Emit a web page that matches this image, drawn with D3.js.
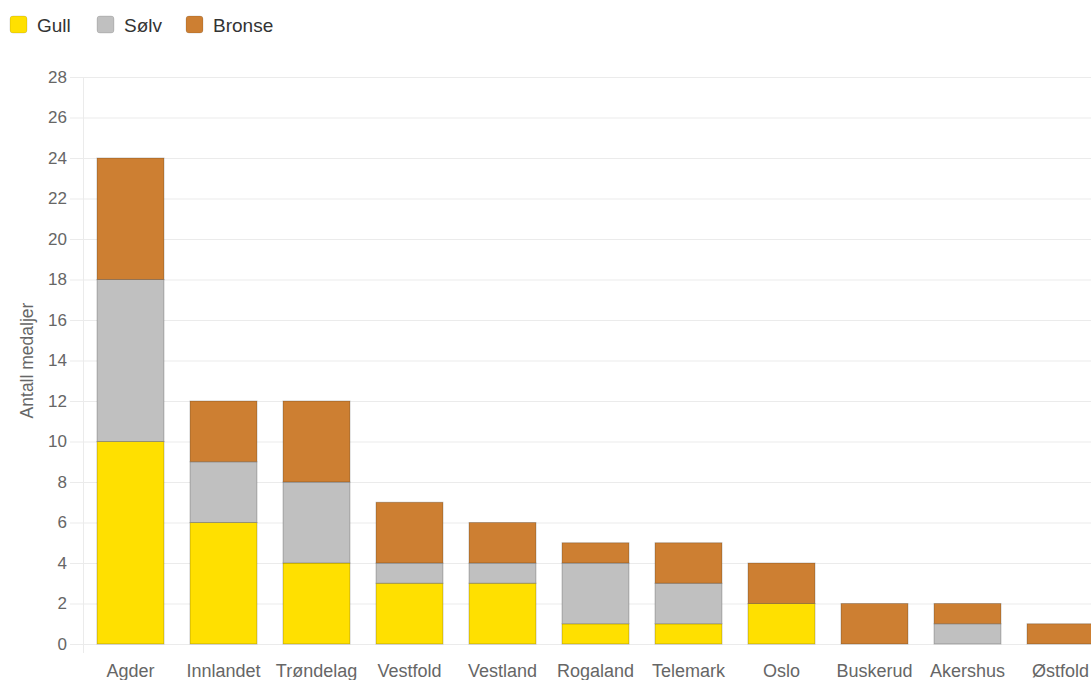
<!DOCTYPE html>
<html><head><meta charset="utf-8">
<script src="https://cdn.jsdelivr.net/npm/d3@7"></script>
<style>body{margin:0;background:#fff;overflow:hidden}svg{display:block}</style>
</head><body>
<svg id="chart" width="1091" height="680"></svg>
<script>
const categories = ["Agder","Innlandet","Trøndelag","Vestfold","Vestland","Rogaland","Telemark","Oslo","Buskerud","Akershus","Østfold"];
const gull   = [10,6,4,3,3,1,1,2,0,0,0];
const solv   = [8,3,4,1,1,3,2,0,0,1,0];
const bronse = [6,3,4,3,2,1,2,2,2,1,1];
const seriesNames = ["Gull","Sølv","Bronse"];
const seriesColors = ["#FFE000","#C0C0C0","#CD7F32"];
const yTicks = d3.range(0, 29, 2);
const yTitle = "Antall medaljer";

const svg = d3.select("#chart");
const font = "Helvetica, Arial, 'Liberation Sans', sans-serif";
const pLeft = 84, pRight = 1107, pTop = 77, pBottom = 644;

const x = d3.scaleBand().domain(categories).range([pLeft, pRight]).paddingInner(0.28).paddingOuter(0.14);
const y = d3.scaleLinear().domain([0, 28]).range([pBottom, pTop]);

// grid
const grid = svg.append("g");
grid.selectAll("line").data(yTicks).join("line")
  .attr("x1", pLeft - 14).attr("x2", 1091)
  .attr("y1", d => y(d) + 0.5).attr("y2", d => y(d) + 0.5)
  .attr("stroke", "#ebebeb").attr("stroke-width", 1);
svg.append("line").attr("x1", pLeft - 0.5).attr("x2", pLeft - 0.5).attr("y1", pTop).attr("y2", pBottom + 9)
  .attr("stroke", "#ebebeb");

// y axis labels
const yAxis = svg.append("g").attr("transform", `translate(${pLeft - 17},0)`)
  .call(d3.axisLeft(y).tickValues(yTicks).tickSize(0).tickPadding(0));
yAxis.select(".domain").remove();
yAxis.selectAll("text").attr("font-family", font).attr("font-size", 17).attr("fill", "#666");

// x axis labels
const xAxis = svg.append("g").attr("transform", `translate(0,${pBottom + 17})`)
  .call(d3.axisBottom(x).tickSize(0).tickPadding(0));
xAxis.select(".domain").remove();
xAxis.selectAll("text").attr("font-family", font).attr("font-size", 18).attr("fill", "#666").attr("dy", "0.9em");

// y title
svg.append("text").attr("transform", `translate(33,${(pTop + pBottom) / 2}) rotate(-90)`)
  .attr("text-anchor", "middle").attr("font-family", font).attr("font-size", 17.5).attr("fill", "#666").text(yTitle);

// stacked bars
const rows = categories.map((c, i) => ({cat: c, Gull: gull[i], "Sølv": solv[i], Bronse: bronse[i]}));
const stacked = d3.stack().keys(seriesNames)(rows);
stacked.forEach((s, si) => {
  svg.append("g").selectAll("rect").data(s.filter(d => d[1] - d[0] > 0)).join("rect")
    .attr("x", d => x(d.data.cat))
    .attr("width", x.bandwidth())
    .attr("y", d => y(d[1]))
    .attr("height", d => y(d[0]) - y(d[1]))
    .attr("fill", seriesColors[si])
    .attr("stroke", "rgba(0,0,0,0.22)").attr("stroke-width", 1);
});

// legend
const legendX = [10, 97, 186];
const lg = svg.append("g");
seriesNames.forEach((n, i) => {
  lg.append("rect").attr("x", legendX[i]).attr("y", 16).attr("width", 17).attr("height", 17).attr("rx", 3)
    .attr("fill", seriesColors[i]).attr("stroke", "rgba(0,0,0,0.12)");
  lg.append("text").attr("x", legendX[i] + 27).attr("y", 31.5).attr("font-family", font).attr("font-size", 19)
    .attr("fill", "#333").text(n);
});
</script>
</body></html>
